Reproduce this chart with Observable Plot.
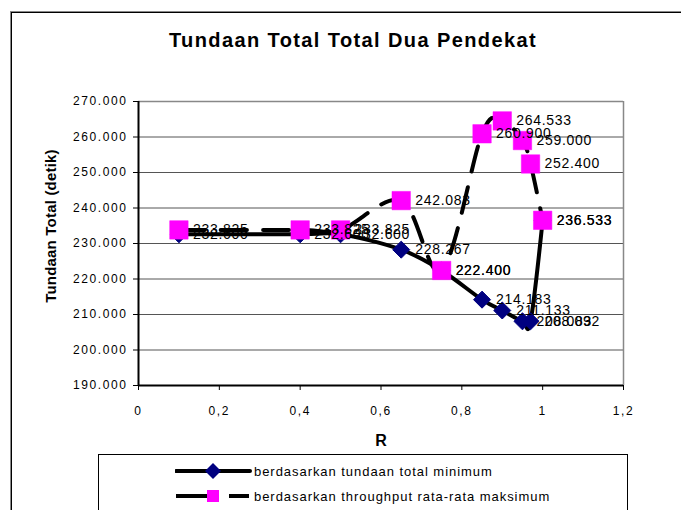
<!DOCTYPE html>
<html>
<head>
<meta charset="utf-8">
<script src="https://cdn.jsdelivr.net/npm/d3@7"></script>
<script src="https://cdn.jsdelivr.net/npm/@observablehq/plot@0.6"></script>
<style>
  body { margin: 0; background: #fff; }
  #chart { position: relative; width: 681px; height: 510px; overflow: hidden; background: #fff; font-family: "Liberation Sans", Arial, sans-serif; color: #000; }
  #frame { position: absolute; left: 11px; top: 12px; width: 720px; height: 540px; border-left: 1px solid #000; border-top: 1px solid #000; box-shadow: -1px -1px 0 #888; }
  #title { position: absolute; left: 0; width: 706px; top: 29px; text-align: center; font-weight: bold; font-size: 20px; letter-spacing: 1.4px; }
  #ytitle { position: absolute; left: 50px; top: 226px; transform: translate(-50%, -50%) rotate(-90deg); font-weight: bold; font-size: 15px; letter-spacing: 0.2px; white-space: nowrap; }
  #xtitle { position: absolute; left: 381px; top: 441px; transform: translate(-50%, -50%); font-weight: bold; font-size: 16px; }
  #legend { position: absolute; left: 98px; top: 454px; width: 528px; height: 70px; border: 1px solid #000; background: #fff; }
  #legend .row { position: absolute; left: 0; height: 20px; width: 100%; }
  #legend .row span { position: absolute; left: 155px; top: 50%; transform: translateY(-50%); font-size: 13px; letter-spacing: 0.95px; white-space: nowrap; }
  #legend svg { position: absolute; left: 76px; top: 0; }
  #plot svg { position: absolute; left: 0; top: 0; }
  g[aria-label="y-axis tick label"] text { letter-spacing: 1.6px; }
  g[aria-label="x-axis tick label"] text { letter-spacing: 1.6px; }
  g[aria-label="text"] text { letter-spacing: 0.7px; }
</style>
</head>
<body>
<div id="chart">
  <div id="frame"></div>
  <div id="plot"></div>
  <div id="title">Tundaan Total Total Dua Pendekat</div>
  <div id="ytitle">Tundaan Total (detik)</div>
  <div id="xtitle">R</div>
  <div id="legend"></div>
</div>
<script>
// ---- data ----
const rValues = [0.1, 0.4, 0.5, 0.65, 0.75, 0.85, 0.9, 0.95, 0.97, 1.0];
const delayMin = [232.6, 232.6, 232.6, 228.267, 222.4, 214.183, 211.133, 208.083, 208.092, 236.533];
const delayMaxThroughput = [233.825, 233.825, 233.825, 242.083, 222.4, 260.9, 264.533, 259.0, 252.4, 236.533];
const seriesNames = ["berdasarkan tundaan total minimum", "berdasarkan throughput rata-rata maksimum"];
const xTicks = [0, 0.2, 0.4, 0.6, 0.8, 1, 1.2];
const xTickLabels = ["0", "0,2", "0,4", "0,6", "0,8", "1", "1,2"];
const yTicks = [190, 200, 210, 220, 230, 240, 250, 260, 270];
const yTickLabels = ["190.000", "200.000", "210.000", "220.000", "230.000", "240.000", "250.000", "260.000", "270.000"];
const gridValues = [200, 210, 220, 230, 240, 250, 260];

const s1 = rValues.map((r, i) => ({x: r, y: delayMin[i]}));
const s2 = rValues.map((r, i) => ({x: r, y: delayMaxThroughput[i]}));

const navy = "#000080";
const magenta = "#FF00FF";

// square-ish diamond like Excel's marker
const diamond = {
  draw(ctx, size) {
    const r = Math.sqrt(size / 2);
    ctx.moveTo(0, -r); ctx.lineTo(r, 0); ctx.lineTo(0, r); ctx.lineTo(-r, 0); ctx.closePath();
  }
};
const fmt = d => d.y.toFixed(3);

const chart = Plot.plot({
  width: 681,
  height: 470,
  marginLeft: 138,
  marginRight: 58,
  marginTop: 101,
  marginBottom: 85,
  style: {fontFamily: "'Liberation Sans', Arial, sans-serif", background: "transparent", color: "#000", overflow: "visible"},
  x: {domain: [0, 1.2]},
  y: {domain: [190, 270]},
  marks: [
    Plot.ruleY(gridValues, {stroke: "#555", strokeWidth: 1}),
    Plot.ruleY([270], {stroke: "#888", strokeWidth: 1.5}),
    Plot.ruleX([1.2], {stroke: "#888", strokeWidth: 1.5}),
    Plot.axisY(yTicks, {tickFormat: d => yTickLabels[yTicks.indexOf(d)], tickSize: 5, tickPadding: 6, fontSize: 12, label: null, stroke: "#000"}),
    Plot.axisX(xTicks, {tickFormat: d => xTickLabels[xTicks.indexOf(d)], tickSize: 5, tickPadding: 16, fontSize: 12, label: null, stroke: "#000"}),
    Plot.ruleX([0], {stroke: "#000", strokeWidth: 2}),
    Plot.ruleY([190], {stroke: "#000", strokeWidth: 2}),
    Plot.line(s1, {x: "x", y: "y", curve: "cardinal", stroke: "#000", strokeWidth: 4}),
    Plot.dot(s1, {x: "x", y: "y", symbol: diamond, r: 6.8, fill: navy, stroke: navy, strokeWidth: 1}),
    Plot.line(s2, {x: "x", y: "y", curve: "cardinal", stroke: "#000", strokeWidth: 4, strokeDasharray: "26,16"}),
    Plot.dot(s2, {x: "x", y: "y", symbol: "square", r: 10.4, fill: magenta, stroke: magenta, strokeWidth: 0.5}),
    Plot.text(s1, {x: "x", y: "y", text: fmt, dx: 14, textAnchor: "start", fontSize: 14, fill: "#000"}),
    Plot.text(s2, {x: "x", y: "y", text: fmt, dx: 14, textAnchor: "start", fontSize: 14, fill: "#000"})
  ]
});
document.getElementById("plot").appendChild(chart);

// legend (hand built)
const legend = document.getElementById("legend");
const rowsY = [16, 41];
seriesNames.forEach((name, i) => {
  const row = document.createElement("div");
  row.className = "row";
  row.style.top = (rowsY[i] - 10) + "px";
  const ns = "http://www.w3.org/2000/svg";
  const svg = document.createElementNS(ns, "svg");
  svg.setAttribute("width", 80); svg.setAttribute("height", 20);
  if (i === 0) {
    svg.innerHTML = `<line x1="1" y1="10" x2="75" y2="10" stroke="#000" stroke-width="4" stroke-linecap="round"/>
      <path d="M38,2 L46,10 L38,18 L30,10 Z" fill="${navy}"/>`;
  } else {
    svg.innerHTML = `<line x1="1" y1="10" x2="32" y2="10" stroke="#000" stroke-width="4"/>
      <line x1="54" y1="10" x2="74" y2="10" stroke="#000" stroke-width="4"/>
      <rect x="32" y="4" width="12" height="12" fill="${magenta}"/>`;
  }
  row.appendChild(svg);
  const span = document.createElement("span");
  span.textContent = name;
  row.appendChild(span);
  legend.appendChild(row);
});
</script>
</body>
</html>
